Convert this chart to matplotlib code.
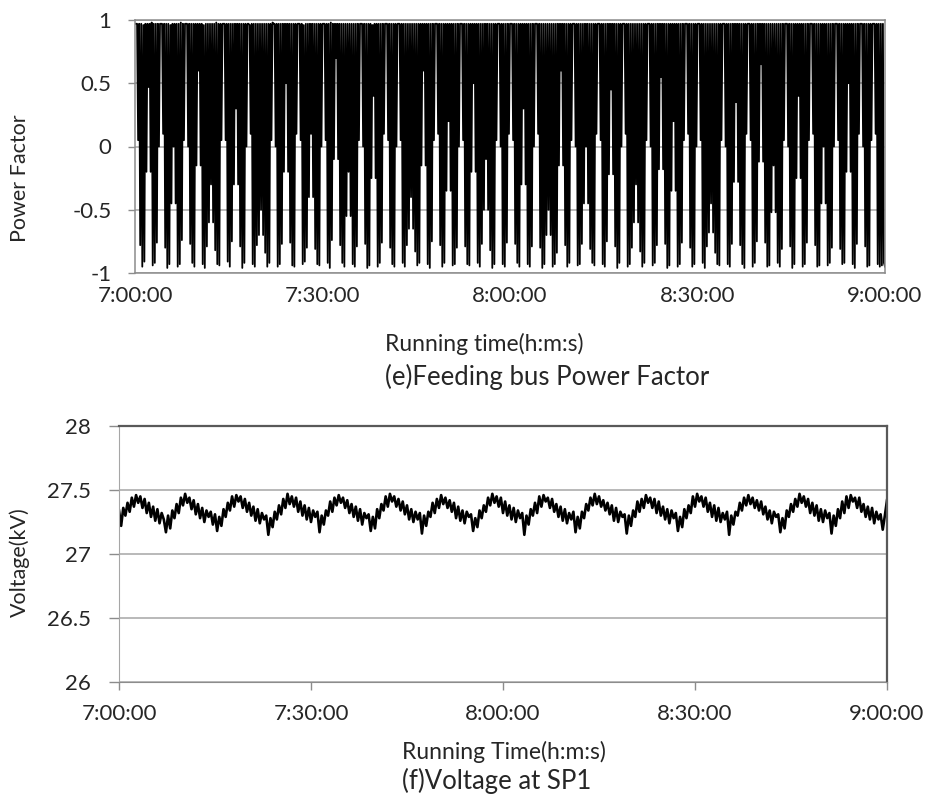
"""Feeding bus power factor and SP1 voltage, 7:00 to 9:00 (two stacked panels)."""
import numpy as np
import matplotlib
matplotlib.use("Agg")
import matplotlib.pyplot as plt

plt.rcParams["font.family"] = ["Lato", "DejaVu Sans"]

W, H = 930, 796

TIME_TICKS = [0, 30, 60, 90, 120]          # minutes after 7:00
TIME_LABELS = ["7:00:00", "7:30:00", "8:00:00", "8:30:00", "9:00:00"]

PF_TICKS = [-1, -0.5, 0, 0.5, 1]
PF_LABELS = ["-1", "-0.5", "0", "0.5", "1"]

VOLT_TICKS = [26, 26.5, 27, 27.5, 28]
VOLT_LABELS = ["26", "26.5", "27", "27.5", "28"]

# power factor, one sample every 10 s (one row = 4 min)
power_factor = [
    0.97, 0.97, 0.97, 0.05, 0.97, -0.78, 0.97, -0.95, 0.96, -0.91, 0.97, -0.20, 0.97, 0.47, 0.97, -0.20, 0.98, -0.94, 0.97, -0.92, 0.97, -0.76, 0.97, 0.00,
    0.97, 0.97, 0.97, 0.10, 0.97, -0.80, 0.97, -0.96, 0.97, -0.93, 0.96, -0.45, 0.97, 0.00, 0.97, -0.45, 0.97, -0.95, 0.97, -0.93, 0.98, -0.74, 0.97, 0.05,
    0.97, 0.97, 0.97, 0.00, 0.97, -0.77, 0.97, -0.92, 0.97, -0.95, 0.97, -0.15, 0.97, 0.60, 0.97, -0.15, 0.97, -0.93, 0.96, -0.96, 0.97, -0.79, 0.97, -0.60,
    0.97, -0.30, 0.97, -0.60, 0.97, -0.82, 0.98, -0.93, 0.97, -0.94, 0.97, 0.05, 0.97, 0.97, 0.97, 0.05, 0.97, -0.91, 0.97, -0.95, 0.97, -0.75, 0.97, -0.30,
    0.97, 0.30, 0.97, -0.30, 0.97, -0.79, 0.97, -0.96, 0.97, -0.92, 0.97, 0.00, 0.97, 0.97, 0.96, 0.10, 0.97, -0.93, 0.97, -0.95, 0.97, -0.78, 0.97, -0.70,
    0.97, -0.50, 0.97, -0.70, 0.97, -0.84, 0.97, -0.95, 0.97, -0.92, 0.97, 0.05, 0.98, 0.97, 0.97, 0.00, 0.97, -0.95, 0.97, -0.93, 0.97, -0.77, 0.97, -0.20,
    0.97, 0.50, 0.97, -0.20, 0.97, -0.76, 0.97, -0.94, 0.97, -0.95, 0.97, 0.10, 0.97, 0.97, 0.97, 0.05, 0.97, -0.93, 0.96, -0.91, 0.97, -0.80, 0.97, -0.40,
    0.97, 0.10, 0.97, -0.40, 0.97, -0.81, 0.97, -0.93, 0.97, -0.94, 0.97, 0.00, 0.97, 0.97, 0.97, 0.05, 0.97, -0.92, 0.97, -0.96, 0.98, -0.74, 0.97, -0.10,
    0.97, 0.70, 0.97, -0.10, 0.97, -0.78, 0.97, -0.92, 0.97, -0.95, 0.97, -0.55, 0.97, -0.20, 0.97, -0.55, 0.97, -0.93, 0.97, -0.95, 0.97, -0.79, 0.97, 0.05,
    0.97, 0.97, 0.97, 0.00, 0.97, -0.77, 0.97, -0.96, 0.97, -0.94, 0.97, -0.25, 0.96, 0.40, 0.97, -0.25, 0.97, -0.95, 0.97, -0.92, 0.97, -0.76, 0.97, 0.10,
    0.97, 0.97, 0.97, 0.05, 0.97, -0.80, 0.97, -0.93, 0.97, -0.95, 0.97, 0.00, 0.97, 0.97, 0.97, 0.05, 0.97, -0.92, 0.97, -0.95, 0.97, -0.78, 0.97, -0.65,
    0.97, -0.40, 0.97, -0.65, 0.97, -0.83, 0.97, -0.94, 0.97, -0.92, 0.97, -0.15, 0.97, 0.60, 0.97, -0.15, 0.97, -0.93, 0.97, -0.96, 0.97, -0.75, 0.97, 0.05,
    0.97, 0.97, 0.97, 0.10, 0.97, -0.78, 0.97, -0.95, 0.97, -0.92, 0.97, -0.35, 0.97, 0.20, 0.97, -0.35, 0.97, -0.94, 0.97, -0.93, 0.97, -0.80, 0.97, 0.00,
    0.97, 0.97, 0.97, 0.05, 0.97, -0.79, 0.97, -0.93, 0.97, -0.94, 0.97, -0.20, 0.97, 0.50, 0.97, -0.20, 0.97, -0.92, 0.97, -0.95, 0.97, -0.77, 0.97, -0.50,
    0.97, -0.10, 0.97, -0.50, 0.97, -0.82, 0.97, -0.96, 0.97, -0.93, 0.97, 0.05, 0.97, 0.97, 0.97, 0.00, 0.97, -0.93, 0.97, -0.95, 0.97, -0.76, 0.97, 0.10,
    0.97, 0.97, 0.97, 0.05, 0.97, -0.77, 0.97, -0.92, 0.97, -0.95, 0.97, -0.30, 0.97, 0.30, 0.97, -0.30, 0.97, -0.93, 0.97, -0.95, 0.97, -0.79, 0.97, 0.00,
    0.97, 0.97, 0.97, 0.10, 0.97, -0.80, 0.97, -0.96, 0.97, -0.93, 0.97, -0.70, 0.97, -0.50, 0.97, -0.70, 0.97, -0.95, 0.97, -0.93, 0.97, -0.84, 0.97, -0.15,
    0.97, 0.60, 0.97, -0.15, 0.97, -0.78, 0.97, -0.95, 0.97, -0.92, 0.97, 0.05, 0.97, 0.97, 0.97, 0.00, 0.97, -0.94, 0.97, -0.93, 0.97, -0.77, 0.97, -0.45,
    0.97, 0.00, 0.97, -0.45, 0.97, -0.81, 0.97, -0.92, 0.97, -0.94, 0.97, 0.10, 0.97, 0.97, 0.97, 0.05, 0.97, -0.93, 0.97, -0.95, 0.97, -0.75, 0.97, -0.22,
    0.97, 0.45, 0.97, -0.22, 0.97, -0.79, 0.97, -0.96, 0.97, -0.92, 0.97, 0.00, 0.97, 0.97, 0.97, 0.10, 0.97, -0.95, 0.97, -0.93, 0.97, -0.80, 0.97, -0.60,
    0.97, -0.30, 0.97, -0.60, 0.97, -0.83, 0.97, -0.95, 0.97, -0.92, 0.97, 0.05, 0.97, 0.97, 0.97, 0.00, 0.97, -0.94, 0.97, -0.92, 0.97, -0.78, 0.97, -0.18,
    0.97, 0.55, 0.97, -0.18, 0.97, -0.77, 0.97, -0.96, 0.97, -0.94, 0.97, -0.35, 0.97, 0.20, 0.97, -0.35, 0.97, -0.95, 0.97, -0.93, 0.97, -0.76, 0.97, 0.05,
    0.97, 0.97, 0.97, 0.10, 0.97, -0.80, 0.97, -0.95, 0.97, -0.93, 0.97, 0.00, 0.97, 0.97, 0.97, 0.05, 0.97, -0.92, 0.97, -0.96, 0.97, -0.79, 0.97, -0.68,
    0.97, -0.45, 0.97, -0.68, 0.97, -0.84, 0.97, -0.93, 0.97, -0.94, 0.97, 0.05, 0.97, 0.97, 0.97, 0.00, 0.97, -0.93, 0.97, -0.95, 0.97, -0.77, 0.97, -0.28,
    0.97, 0.35, 0.97, -0.28, 0.97, -0.78, 0.97, -0.93, 0.97, -0.96, 0.97, 0.10, 0.97, 0.97, 0.97, 0.05, 0.97, -0.95, 0.97, -0.92, 0.97, -0.75, 0.97, -0.12,
    0.97, 0.65, 0.97, -0.12, 0.97, -0.76, 0.97, -0.95, 0.97, -0.94, 0.97, -0.52, 0.97, -0.15, 0.97, -0.52, 0.97, -0.92, 0.97, -0.95, 0.97, -0.81, 0.97, 0.05,
    0.97, 0.97, 0.97, 0.00, 0.97, -0.79, 0.97, -0.96, 0.97, -0.93, 0.97, -0.25, 0.97, 0.40, 0.97, -0.25, 0.97, -0.95, 0.97, -0.93, 0.97, -0.76, 0.97, 0.05,
    0.97, 0.97, 0.97, 0.10, 0.97, -0.78, 0.97, -0.95, 0.97, -0.94, 0.97, -0.45, 0.97, 0.00, 0.97, -0.45, 0.97, -0.94, 0.97, -0.92, 0.97, -0.80, 0.97, 0.00,
    0.97, 0.97, 0.97, 0.05, 0.97, -0.81, 0.97, -0.93, 0.97, -0.92, 0.97, -0.20, 0.97, 0.50, 0.97, -0.20, 0.97, -0.93, 0.97, -0.96, 0.97, -0.77, 0.97, 0.10,
    0.97, 0.97, 0.97, 0.00, 0.97, -0.79, 0.97, -0.95, 0.97, -0.94, 0.97, 0.05, 0.97, 0.97, 0.97, 0.10, 0.97, -0.93, 0.97, -0.95, 0.97, -0.94, 0.97, -0.92,
    -0.95,
]

# voltage at SP1 (kV), one sample every 20 s (one row = 8 min)
voltage_sp1 = [
    27.34, 27.22, 27.36, 27.30, 27.40, 27.33, 27.44, 27.37, 27.46, 27.40, 27.45, 27.36, 27.43, 27.32, 27.40, 27.29, 27.37, 27.26, 27.35, 27.24, 27.32, 27.27, 27.17, 27.30,
    27.20, 27.34, 27.28, 27.39, 27.32, 27.44, 27.38, 27.47, 27.40, 27.44, 27.35, 27.42, 27.31, 27.39, 27.28, 27.36, 27.25, 27.34, 27.29, 27.33, 27.23, 27.31, 27.18, 27.29,
    27.22, 27.35, 27.29, 27.40, 27.34, 27.45, 27.37, 27.46, 27.41, 27.45, 27.36, 27.43, 27.33, 27.40, 27.30, 27.37, 27.26, 27.35, 27.24, 27.32, 27.27, 27.30, 27.15, 27.28,
    27.21, 27.33, 27.27, 27.38, 27.31, 27.43, 27.36, 27.47, 27.39, 27.45, 27.37, 27.44, 27.33, 27.41, 27.30, 27.38, 27.27, 27.36, 27.25, 27.34, 27.29, 27.33, 27.17, 27.30,
    27.23, 27.34, 27.30, 27.41, 27.33, 27.44, 27.38, 27.46, 27.40, 27.44, 27.36, 27.42, 27.32, 27.39, 27.29, 27.37, 27.26, 27.35, 27.23, 27.32, 27.28, 27.31, 27.18, 27.29,
    27.20, 27.35, 27.28, 27.39, 27.34, 27.45, 27.37, 27.47, 27.41, 27.45, 27.37, 27.43, 27.34, 27.41, 27.31, 27.38, 27.27, 27.35, 27.25, 27.33, 27.27, 27.32, 27.16, 27.30,
    27.22, 27.33, 27.29, 27.40, 27.32, 27.43, 27.36, 27.46, 27.39, 27.44, 27.36, 27.42, 27.33, 27.40, 27.28, 27.37, 27.26, 27.34, 27.24, 27.33, 27.29, 27.31, 27.18, 27.28,
    27.21, 27.34, 27.28, 27.38, 27.33, 27.44, 27.38, 27.47, 27.40, 27.45, 27.37, 27.44, 27.32, 27.41, 27.30, 27.38, 27.27, 27.36, 27.25, 27.34, 27.28, 27.32, 27.15, 27.30,
    27.23, 27.35, 27.30, 27.40, 27.32, 27.45, 27.37, 27.46, 27.41, 27.44, 27.36, 27.43, 27.33, 27.39, 27.29, 27.37, 27.26, 27.35, 27.24, 27.32, 27.27, 27.33, 27.17, 27.29,
    27.20, 27.33, 27.28, 27.39, 27.34, 27.44, 27.38, 27.47, 27.39, 27.45, 27.37, 27.42, 27.34, 27.40, 27.31, 27.38, 27.26, 27.36, 27.25, 27.33, 27.29, 27.31, 27.16, 27.30,
    27.22, 27.34, 27.29, 27.41, 27.33, 27.43, 27.36, 27.46, 27.40, 27.44, 27.36, 27.43, 27.32, 27.41, 27.30, 27.37, 27.27, 27.35, 27.24, 27.34, 27.28, 27.32, 27.18, 27.29,
    27.21, 27.35, 27.28, 27.38, 27.32, 27.45, 27.37, 27.47, 27.41, 27.45, 27.37, 27.44, 27.33, 27.40, 27.29, 27.38, 27.26, 27.36, 27.25, 27.32, 27.27, 27.33, 27.15, 27.30,
    27.23, 27.33, 27.30, 27.40, 27.34, 27.44, 27.38, 27.46, 27.39, 27.44, 27.36, 27.42, 27.34, 27.41, 27.31, 27.37, 27.27, 27.34, 27.24, 27.33, 27.29, 27.31, 27.17, 27.28,
    27.20, 27.34, 27.29, 27.39, 27.33, 27.43, 27.37, 27.47, 27.40, 27.45, 27.37, 27.43, 27.32, 27.40, 27.30, 27.38, 27.26, 27.35, 27.25, 27.34, 27.28, 27.32, 27.16, 27.30,
    27.22, 27.35, 27.28, 27.41, 27.32, 27.45, 27.36, 27.46, 27.41, 27.44, 27.36, 27.44, 27.33, 27.39, 27.29, 27.37, 27.27, 27.36, 27.24, 27.33, 27.27, 27.31, 27.19, 27.30,
    27.42,
]

TEXT = "#262626"
GRID = "#a6a6a6"


def px_axes(fig, left, top, right, bottom):
    return fig.add_axes([left / W, 1 - bottom / H, (right - left) / W, (bottom - top) / H])


def fig_text(fig, x, y, s, **kw):
    fig.text(x / W, 1 - y / H, s, color=TEXT, **kw)


def style_axes(ax, yticks, ylabels, ylim, ytick_len, ypad, xtick_len, xpad):
    ax.set_xlim(0, 120)
    ax.set_ylim(*ylim)
    ax.set_xticks(TIME_TICKS)
    ax.set_xticklabels(TIME_LABELS)
    ax.set_yticks(yticks)
    ax.set_yticklabels(ylabels)
    ax.yaxis.grid(True, color=GRID, lw=1.1)
    ax.set_axisbelow(True)
    ax.tick_params(axis="y", length=ytick_len, width=1, color="#8c8c8c",
                   labelsize=16, labelcolor=TEXT, pad=ypad)
    ax.tick_params(axis="x", length=xtick_len, width=1, color="#8c8c8c",
                   labelsize=16, labelcolor=TEXT, pad=xpad)


def main():
    fig = plt.figure(figsize=(W / 100, H / 100), dpi=100)

    # (e) power factor
    ax1 = px_axes(fig, 135, 20, 885, 273)
    t_pf = np.linspace(0, 120, len(power_factor))
    ax1.plot(t_pf, power_factor, color="black", lw=1.3)
    style_axes(ax1, PF_TICKS, PF_LABELS, (-1, 1), 5, 12, 0, 9)
    for side in ["left", "bottom", "top", "right"]:
        ax1.spines[side].set_color("#8c8c8c")
        ax1.spines[side].set_linewidth(1.1)

    fig_text(fig, 20, 178, "Power Factor", rotation=90, ha="center", va="center", fontsize=15.5)
    fig_text(fig, 385, 344, "Running time(h:m:s)", ha="left", va="center", fontsize=16.5)
    fig_text(fig, 385, 377, "(e)Feeding bus Power Factor", ha="left", va="center", fontsize=18.5)

    # (f) voltage at SP1
    ax2 = px_axes(fig, 119, 426, 887, 682)
    t_v = np.linspace(0, 120, len(voltage_sp1))
    ax2.plot(t_v, voltage_sp1, color="black", lw=1.9)
    style_axes(ax2, VOLT_TICKS, VOLT_LABELS, (26, 28), 7, 13, 6, 10)
    ax2.spines["left"].set_color("#a6a6a6")
    ax2.spines["bottom"].set_color("#8c8c8c")
    for side in ["top", "right"]:
        ax2.spines[side].set_color("#595959")
        ax2.spines[side].set_linewidth(1.6)

    fig_text(fig, 20, 562, "Voltage(kV)", rotation=90, ha="center", va="center", fontsize=15.5)
    fig_text(fig, 402, 752, "Running Time(h:m:s)", ha="left", va="center", fontsize=16.5)
    fig_text(fig, 402, 781, "(f)Voltage at SP1", ha="left", va="center", fontsize=18.5)

    fig.savefig("out.png", dpi=100)
    plt.close(fig)


if __name__ == "__main__":
    main()
